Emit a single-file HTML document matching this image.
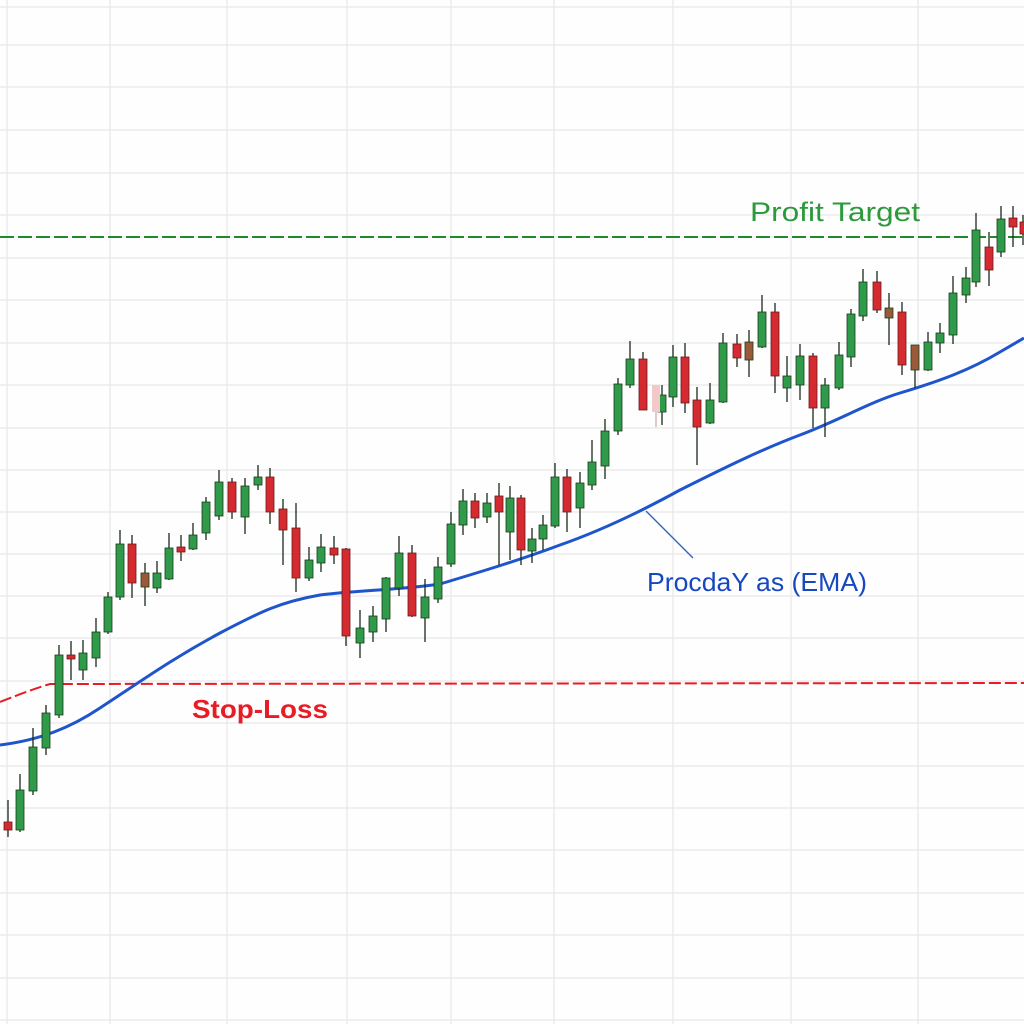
<!DOCTYPE html>
<html><head><meta charset="utf-8"><style>html,body{margin:0;padding:0;background:#fff}svg{display:block}</style></head>
<body>
<svg width="1024" height="1024" viewBox="0 0 1024 1024" xmlns="http://www.w3.org/2000/svg">
<rect width="1024" height="1024" fill="#fefefe"/>
<g stroke="#e8e8e8" stroke-width="1.3">
<line x1="7" y1="0" x2="7" y2="1024"/><line x1="110" y1="0" x2="110" y2="1024"/><line x1="227" y1="0" x2="227" y2="1024"/><line x1="347" y1="0" x2="347" y2="1024"/><line x1="451" y1="0" x2="451" y2="1024"/><line x1="554" y1="0" x2="554" y2="1024"/><line x1="673" y1="0" x2="673" y2="1024"/><line x1="791" y1="0" x2="791" y2="1024"/><line x1="918" y1="0" x2="918" y2="1024"/>
<line x1="0" y1="7" x2="1024" y2="7"/><line x1="0" y1="45" x2="1024" y2="45"/><line x1="0" y1="87" x2="1024" y2="87"/><line x1="0" y1="130" x2="1024" y2="130"/><line x1="0" y1="173" x2="1024" y2="173"/><line x1="0" y1="215" x2="1024" y2="215"/><line x1="0" y1="258" x2="1024" y2="258"/><line x1="0" y1="300" x2="1024" y2="300"/><line x1="0" y1="343" x2="1024" y2="343"/><line x1="0" y1="385" x2="1024" y2="385"/><line x1="0" y1="428" x2="1024" y2="428"/><line x1="0" y1="470" x2="1024" y2="470"/><line x1="0" y1="512" x2="1024" y2="512"/><line x1="0" y1="554" x2="1024" y2="554"/><line x1="0" y1="596" x2="1024" y2="596"/><line x1="0" y1="638" x2="1024" y2="638"/><line x1="0" y1="681" x2="1024" y2="681"/><line x1="0" y1="723" x2="1024" y2="723"/><line x1="0" y1="766" x2="1024" y2="766"/><line x1="0" y1="808" x2="1024" y2="808"/><line x1="0" y1="850" x2="1024" y2="850"/><line x1="0" y1="893" x2="1024" y2="893"/><line x1="0" y1="935" x2="1024" y2="935"/><line x1="0" y1="978" x2="1024" y2="978"/><line x1="0" y1="1020" x2="1024" y2="1020"/>
</g>
<line x1="0" y1="237" x2="1024" y2="237" stroke="#1f8a2a" stroke-width="2" stroke-dasharray="14,4"/>
<text x="750" y="221" font-family="Liberation Sans, sans-serif" font-size="27" fill="#2a9a3a" textLength="170" lengthAdjust="spacingAndGlyphs">Profit Target</text>
<path d="M0,702 Q30,690 50,684 L1024,683" fill="none" stroke="#e81c24" stroke-width="2" stroke-dasharray="12,4"/>
<text x="192" y="718" font-family="Liberation Sans, sans-serif" font-size="26" font-weight="bold" fill="#e81c24" textLength="136" lengthAdjust="spacingAndGlyphs">Stop-Loss</text>
<path d="M0,745 C40,740 70,728 100,708 C140,682 170,660 220,633 C260,612 280,602 320,595 C360,590 400,590 440,584 C480,572 520,560 560,545 C600,531 640,512 680,490 C720,470 760,450 800,435 C840,420 870,402 900,393 C940,381 970,370 1000,352 L1024,338" fill="none" stroke="#1f55cc" stroke-width="3"/>
<line x1="646" y1="511" x2="693" y2="558" stroke="#3060c0" stroke-width="1.3"/>
<text x="647" y="591" font-family="Liberation Sans, sans-serif" font-size="26" fill="#1848c0" textLength="220" lengthAdjust="spacingAndGlyphs">ProcdaY as (EMA)</text>
<g stroke="#1a2a1a" stroke-width="1.3">
<line x1="8" y1="800" x2="8" y2="837"/><line x1="20" y1="774" x2="20" y2="832"/><line x1="33" y1="728" x2="33" y2="795"/><line x1="46" y1="705" x2="46" y2="755"/><line x1="59" y1="645" x2="59" y2="718"/><line x1="71" y1="641" x2="71" y2="680"/><line x1="83" y1="640" x2="83" y2="680"/><line x1="96" y1="618" x2="96" y2="667"/><line x1="108" y1="592" x2="108" y2="634"/><line x1="120" y1="530" x2="120" y2="600"/><line x1="132" y1="535" x2="132" y2="598"/><line x1="145" y1="563" x2="145" y2="606"/><line x1="157" y1="561" x2="157" y2="593"/><line x1="169" y1="533" x2="169" y2="580"/><line x1="181" y1="535" x2="181" y2="561"/><line x1="193" y1="523" x2="193" y2="550"/><line x1="206" y1="497" x2="206" y2="540"/><line x1="219" y1="470" x2="219" y2="520"/><line x1="232" y1="478" x2="232" y2="519"/><line x1="245" y1="478" x2="245" y2="534"/><line x1="258" y1="465" x2="258" y2="490"/><line x1="270" y1="468" x2="270" y2="524"/><line x1="283" y1="499" x2="283" y2="565"/><line x1="296" y1="503" x2="296" y2="592"/><line x1="309" y1="547" x2="309" y2="581"/><line x1="321" y1="534" x2="321" y2="572"/><line x1="334" y1="536" x2="334" y2="564"/>
<line x1="346" y1="548" x2="346" y2="646"/><line x1="360" y1="610" x2="360" y2="658"/><line x1="373" y1="606" x2="373" y2="642"/><line x1="386" y1="577" x2="386" y2="632"/><line x1="399" y1="536" x2="399" y2="596"/><line x1="412" y1="545" x2="412" y2="617"/><line x1="425" y1="579" x2="425" y2="642"/><line x1="438" y1="557" x2="438" y2="603"/><line x1="451" y1="512" x2="451" y2="567"/><line x1="463" y1="489" x2="463" y2="535"/><line x1="475" y1="493" x2="475" y2="528"/><line x1="487" y1="493" x2="487" y2="523"/><line x1="499" y1="483" x2="499" y2="565"/><line x1="510" y1="486" x2="510" y2="560"/><line x1="521" y1="495" x2="521" y2="565"/><line x1="532" y1="528" x2="532" y2="563"/><line x1="543" y1="515" x2="543" y2="550"/><line x1="555" y1="463" x2="555" y2="528"/><line x1="567" y1="469" x2="567" y2="532"/><line x1="580" y1="472" x2="580" y2="528"/><line x1="592" y1="440" x2="592" y2="490"/><line x1="605" y1="419" x2="605" y2="479"/><line x1="618" y1="378" x2="618" y2="435"/><line x1="630" y1="341" x2="630" y2="388"/><line x1="643" y1="352" x2="643" y2="410"/><line x1="656" y1="385" x2="656" y2="427" stroke="#caa"/><line x1="662" y1="385" x2="662" y2="425"/>
<line x1="673" y1="345" x2="673" y2="407"/><line x1="685" y1="343" x2="685" y2="413"/><line x1="697" y1="387" x2="697" y2="465"/><line x1="710" y1="383" x2="710" y2="424"/><line x1="723" y1="333" x2="723" y2="403"/><line x1="737" y1="334" x2="737" y2="367"/><line x1="749" y1="330" x2="749" y2="377"/><line x1="762" y1="295" x2="762" y2="348"/><line x1="775" y1="303" x2="775" y2="393"/><line x1="787" y1="356" x2="787" y2="402"/><line x1="800" y1="344" x2="800" y2="400"/><line x1="813" y1="353" x2="813" y2="428"/><line x1="825" y1="378" x2="825" y2="437"/><line x1="839" y1="342" x2="839" y2="390"/><line x1="851" y1="309" x2="851" y2="367"/><line x1="863" y1="269" x2="863" y2="321"/><line x1="877" y1="271" x2="877" y2="313"/><line x1="889" y1="293" x2="889" y2="345"/><line x1="902" y1="302" x2="902" y2="375"/><line x1="915" y1="345" x2="915" y2="388"/><line x1="928" y1="332" x2="928" y2="371"/><line x1="940" y1="323" x2="940" y2="353"/><line x1="953" y1="276" x2="953" y2="344"/><line x1="966" y1="267" x2="966" y2="303"/><line x1="976" y1="213" x2="976" y2="287"/><line x1="989" y1="232" x2="989" y2="286"/><line x1="1001" y1="206" x2="1001" y2="257"/><line x1="1013" y1="206" x2="1013" y2="247"/><line x1="1023" y1="215" x2="1023" y2="245"/>
</g>
<g stroke="#1a3a1a" stroke-width="0.8">
<g fill="#2e9a4a">
<rect x="16" y="790" width="8" height="40"/><rect x="29" y="747" width="8" height="44"/><rect x="42" y="713" width="8" height="35"/><rect x="55" y="655" width="8" height="60"/><rect x="79" y="653" width="8" height="17"/><rect x="92" y="632" width="8" height="26"/><rect x="104" y="597" width="8" height="35"/><rect x="116" y="544" width="8" height="53"/><rect x="153" y="573" width="8" height="15"/><rect x="165" y="548" width="8" height="31"/><rect x="189" y="535" width="8" height="14"/><rect x="202" y="502" width="8" height="31"/><rect x="215" y="482" width="8" height="34"/><rect x="241" y="486" width="8" height="31"/><rect x="254" y="477" width="8" height="8"/><rect x="305" y="560" width="8" height="18"/><rect x="317" y="547" width="8" height="16"/>
<rect x="356" y="628" width="8" height="15"/><rect x="369" y="616" width="8" height="16"/><rect x="382" y="578" width="8" height="41"/><rect x="395" y="553" width="8" height="35"/><rect x="421" y="597" width="8" height="21"/><rect x="434" y="567" width="8" height="32"/><rect x="447" y="524" width="8" height="40"/><rect x="459" y="501" width="8" height="24"/><rect x="483" y="503" width="8" height="14"/><rect x="506" y="498" width="8" height="34"/><rect x="528" y="539" width="8" height="12"/><rect x="539" y="525" width="8" height="14"/><rect x="551" y="477" width="8" height="49"/><rect x="576" y="483" width="8" height="25"/><rect x="588" y="462" width="8" height="23"/><rect x="601" y="431" width="8" height="35"/><rect x="614" y="384" width="8" height="47"/><rect x="626" y="359" width="8" height="26"/><rect x="658" y="395" width="8" height="17"/>
<rect x="669" y="357" width="8" height="40"/><rect x="706" y="400" width="8" height="23"/><rect x="719" y="343" width="8" height="59"/><rect x="758" y="312" width="8" height="35"/><rect x="783" y="376" width="8" height="12"/><rect x="796" y="356" width="8" height="29"/><rect x="821" y="385" width="8" height="23"/><rect x="835" y="355" width="8" height="33"/><rect x="847" y="314" width="8" height="43"/><rect x="859" y="282" width="8" height="34"/><rect x="924" y="342" width="8" height="28"/><rect x="936" y="333" width="8" height="10"/><rect x="949" y="293" width="8" height="42"/><rect x="962" y="278" width="8" height="17"/><rect x="972" y="230" width="8" height="52"/><rect x="997" y="219" width="8" height="33"/>
</g>
<g fill="#d42a30" stroke="#6a1a1a">
<rect x="4" y="822" width="8" height="8"/><rect x="67" y="655" width="8" height="4"/><rect x="128" y="544" width="8" height="39"/><rect x="177" y="547" width="8" height="5"/><rect x="228" y="482" width="8" height="30"/><rect x="266" y="477" width="8" height="35"/><rect x="279" y="509" width="8" height="21"/><rect x="292" y="528" width="8" height="50"/><rect x="330" y="548" width="8" height="7"/>
<rect x="342" y="549" width="8" height="87"/><rect x="408" y="553" width="8" height="63"/><rect x="471" y="501" width="8" height="17"/><rect x="495" y="496" width="8" height="16"/><rect x="517" y="498" width="8" height="52"/><rect x="563" y="477" width="8" height="35"/><rect x="639" y="359" width="8" height="51"/>
<rect x="681" y="357" width="8" height="46"/><rect x="693" y="400" width="8" height="27"/><rect x="733" y="344" width="8" height="14"/><rect x="771" y="312" width="8" height="64"/><rect x="809" y="356" width="8" height="52"/><rect x="873" y="282" width="8" height="28"/><rect x="898" y="312" width="8" height="53"/><rect x="985" y="247" width="8" height="23"/><rect x="1009" y="218" width="8" height="9"/><rect x="1020" y="222" width="8" height="12"/>
</g>
<g fill="#9a5a3a">
<rect x="141" y="573" width="8" height="14"/><rect x="745" y="342" width="8" height="18"/><rect x="885" y="308" width="8" height="10"/><rect x="911" y="345" width="8" height="25"/>
</g>
<rect x="652" y="385" width="8" height="27" fill="#f3c8c8" stroke="none"/>
</g>
</svg>
</body></html>
